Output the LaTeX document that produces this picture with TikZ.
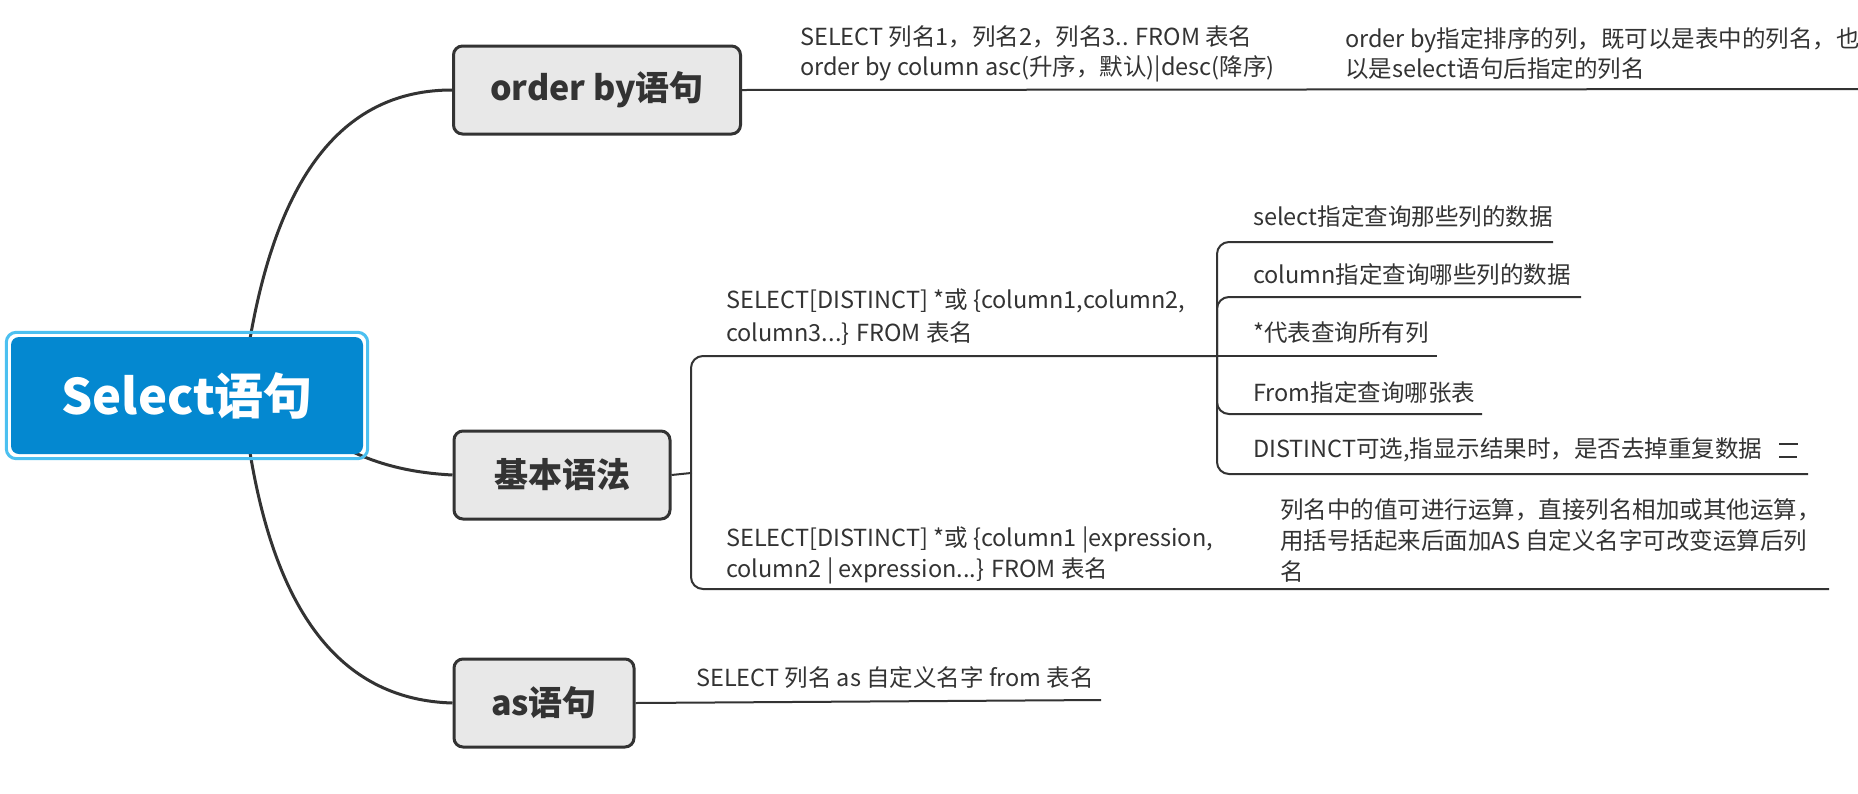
\documentclass[tikz,border=0pt]{standalone}
\usepackage{fontspec}
\setmainfont{Noto Sans CJK SC}
\usetikzlibrary{backgrounds,calc}
\definecolor{rootfill}{RGB}{4,136,208}
\definecolor{rootring}{RGB}{76,192,240}
\definecolor{ink}{RGB}{51,51,51}
\definecolor{topicfill}{RGB}{232,232,232}
\begin{document}
\begin{tikzpicture}[x=1pt,y=-1pt,
  rootbox/.style={fill=rootfill, rounded corners=8pt, minimum width=352pt, minimum height=117pt,
    text=white, inner sep=0pt, font=\fontsize{49}{58}\selectfont\bfseries},
  topic/.style={draw=ink, line width=3pt, fill=topicfill, rounded corners=9pt,
    font=\fontsize{34}{40}\selectfont\bfseries, text=ink, inner sep=0pt, minimum height=88pt},
  lbl/.style={anchor=west, align=left, inner sep=0pt, text=ink, font=\fontsize{23.5}{31}\selectfont},
  branch/.style={draw=ink, line width=3pt},
  twig/.style={draw=ink, line width=2pt, rounded corners=12pt},
]
\clip (0,0) rectangle (1858,793);

% nodes
\node[rootbox] (root) at (187,395.5) {Select语句};
\draw[rootring, line width=3pt, rounded corners=10pt]
  ([shift={(-4.5,-4.5)}]root.north west) rectangle ([shift={(4.5,4.5)}]root.south east);
\node[topic, minimum width=287pt] (ob) at (597,90) {order by语句};
\node[topic, minimum width=216pt] (basic) at (562,475) {基本语法};
\node[topic, minimum width=180pt] (as) at (544,703) {as语句};

% texts
\node[lbl, font=\fontsize{23.5}{30}\selectfont] (obt) at (800,54)
  {SELECT 列名1，列名2，列名3.. FROM 表名\\order by column asc(升序，默认)|desc(降序)};
\node[lbl, font=\fontsize{23.5}{30}\selectfont] (obn) at (1345,54)
  {order by指定排序的列，既可以是表中的列名，也可\\以是select语句后指定的列名};
\node[lbl, font=\fontsize{23.5}{33}\selectfont] (s1) at (726,317)
  {SELECT[DISTINCT] *或 \{column1,column2,\\column3...\} FROM 表名};
\node[lbl] (s2) at (726,555.5)
  {SELECT[DISTINCT] *或 \{column1 |expression,\\column2 | expression...\} FROM 表名};
\node[lbl] (s2c) at (1280,540)
  {列名中的值可进行运算，直接列名相加或其他运算，\\用括号括起来后面加AS 自定义名字可改变运算后列\\名};
\node[lbl] (c1) at (1253,217) {select指定查询那些列的数据};
\node[lbl] (c2) at (1253,275) {column指定查询哪些列的数据};
\node[lbl] (c3) at (1253,333) {*代表查询所有列};
\node[lbl] (c4) at (1253,393) {From指定查询哪张表};
\node[lbl] (c5) at (1253,450) {DISTINCT可选,指显示结果时，是否去掉重复数据};
\node[lbl] (ast) at (696,678) {SELECT 列名 as 自定义名字 from 表名};

% coordinates
\coordinate (bk) at (691,473);
\coordinate (ck) at (1217,356);
\coordinate (obend) at (1862,89);

% note icon
\draw[ink, line width=1.6pt] (1779,444) -- (1798,444) (1779,457) -- (1797,457);

\begin{scope}[on background layer]
  \fill[white] (0,0) rectangle (1858,793);
  % root connectors
  \draw[branch] ([xshift=62pt,yshift=-8pt]root.north) .. controls (278,171) and (346,90) .. (ob.west);
  \draw[branch] ([xshift=62pt,yshift=8pt]root.south) .. controls (276,619) and (345,700) .. (as.west);
  \draw[branch] ([xshift=-18pt,yshift=6pt]root.south east) .. controls (380,466) and (415,473) .. (basic.west);
  % order by
  \draw[twig] (ob.east) -- (obend);
  % basic
  \draw[twig] (basic.east) -- (bk);
  \draw[twig] (bk) -- (bk |- ck) -- (ck);
  \draw[twig] (bk) -- (691,589) -- (1829,589);
  \draw[twig] (ck) -- (1437,356);
  \draw[twig] (ck) -- (1217,242) -- (1553,242);
  \draw[twig] (ck) -- (1217,297) -- (1581,297);
  \draw[twig] (ck) -- (1217,414) -- (1482,414);
  \draw[twig] (ck) -- (1217,474) -- (1808,474);
  % as
  \draw[twig] (as.east) -- (1101,700);
\end{scope}
\end{tikzpicture}
\end{document}
